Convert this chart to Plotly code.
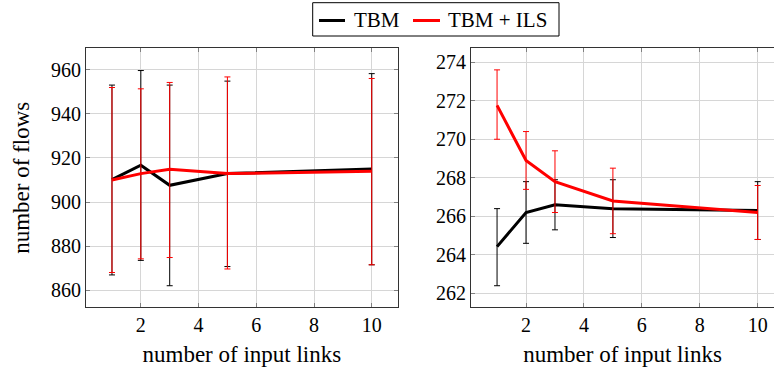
import plotly.graph_objects as go

# x values (number of input links)
links = [1, 2, 3, 5, 10]

# Left panel: number of flows
tbm_left = [910.2, 916.7, 907.6, 912.9, 915.0]
tbm_left_hi = [953.1, 959.7, 953.1, 954.9, 958.3]
tbm_left_lo = [866.9, 873.5, 862.0, 870.7, 871.5]
ils_left = [910.0, 912.9, 914.9, 912.9, 914.0]
ils_left_hi = [952.0, 951.4, 954.3, 956.8, 956.1]
ils_left_lo = [868.0, 874.2, 874.8, 869.6, 871.5]

# Right panel
tbm_right = [264.43, 266.2, 266.6, 266.4, 266.3]
tbm_right_hi = [266.4, 267.8, 267.9, 267.9, 267.8]
tbm_right_lo = [262.4, 264.6, 265.3, 264.9, 264.8]
ils_right = [271.76, 268.9, 267.8, 266.8, 266.2]
ils_right_hi = [273.6, 270.4, 269.4, 268.5, 267.6]
ils_right_lo = [270.0, 267.4, 266.2, 265.1, 264.8]

series_names = ["TBM", "TBM + ILS"]
series_colors = ["black", "#ff0000"]
error_colors = ["black", "#ff0000"]

FONT = "Liberation Serif, Times New Roman, serif"
W, H = 774, 372
TICK = 20
TITLE = 23


def err(vals, hi, lo, color):
    return dict(
        type="data", symmetric=False,
        array=[h - v for h, v in zip(hi, vals)],
        arrayminus=[v - l for v, l in zip(vals, lo)],
        color=color, thickness=1, width=3,
    )


fig = go.Figure()
data = [
    (tbm_left, tbm_left_hi, tbm_left_lo, tbm_right, tbm_right_hi, tbm_right_lo),
    (ils_left, ils_left_hi, ils_left_lo, ils_right, ils_right_hi, ils_right_lo),
]
for name, col, ecol, (l, lh, ll, r, rh, rl) in zip(series_names, series_colors, error_colors, data):
    fig.add_trace(go.Scatter(
        x=links, y=l, mode="lines", name=name, showlegend=False,
        line=dict(color=col, width=3), error_y=err(l, lh, ll, ecol),
        xaxis="x", yaxis="y"))
    fig.add_trace(go.Scatter(
        x=links, y=r, mode="lines", name=name, showlegend=False,
        line=dict(color=col, width=3), error_y=err(r, rh, rl, ecol),
        xaxis="x2", yaxis="y2"))

ydom = [1 - 307.3 / H, 1 - 48.3 / H]


def ax(**kw):
    d = dict(
        showgrid=True, gridcolor="#d6d6d6", gridwidth=1,
        showline=True, linecolor="#333333", linewidth=1,
        ticks="inside", ticklen=4, tickcolor="#808080",
        tickfont=dict(family=FONT, size=TICK, color="black"),
        zeroline=False,
    )
    d.update(kw)
    return d


def xt():
    return dict(text="number of input links", font=dict(family=FONT, size=TITLE, color="black"), standoff=10)


fig.update_layout(
    width=W, height=H,
    margin=dict(l=0, r=0, t=0, b=0),
    paper_bgcolor="white", plot_bgcolor="white",
    font=dict(family=FONT, color="black", size=TICK),
    xaxis=ax(domain=[86 / W, 397.7 / W], range=[0.1, 10.9], tick0=0, dtick=2,
             mirror="ticks", title=xt(), anchor="y"),
    yaxis=ax(domain=ydom, range=[852.2, 969.8], tick0=0, dtick=20, mirror="ticks",
             title=dict(text="number of flows", font=dict(family=FONT, size=TITLE, color="black"), standoff=14),
             anchor="x"),
    xaxis2=ax(domain=[471 / W, 1.0], range=[0.1, 0.1 + (W - 471) / 28.96], tick0=0, dtick=2,
              mirror="ticks", title=xt(), anchor="y2"),
    yaxis2=ax(domain=ydom, range=[261.28, 274.72], tick0=0, dtick=2, mirror=False,
              anchor="x2"),
    showlegend=False,
)

# manual legend (paper coordinates, pixel based)
def px(x):
    return x / W


def py(y):
    return 1 - y / H


fig.add_shape(type="rect", xref="paper", yref="paper",
              x0=px(312.7), x1=px(559), y0=py(36), y1=py(2.7),
              line=dict(color="black", width=1), fillcolor="white")
leg_line_x = [(319, 345), (413, 440)]
leg_text_x = [352, 446]
for (a, b), tx, name, col in zip(leg_line_x, leg_text_x, series_names, series_colors):
    fig.add_shape(type="line", xref="paper", yref="paper",
                  x0=px(a), x1=px(b), y0=py(20.5), y1=py(20.5),
                  line=dict(color=col, width=3))
    fig.add_annotation(xref="paper", yref="paper", x=px(tx), y=py(20), xanchor="left",
                       yanchor="middle", text=name, showarrow=False,
                       font=dict(family=FONT, size=21, color="black"))

fig.write_html("out.html")
